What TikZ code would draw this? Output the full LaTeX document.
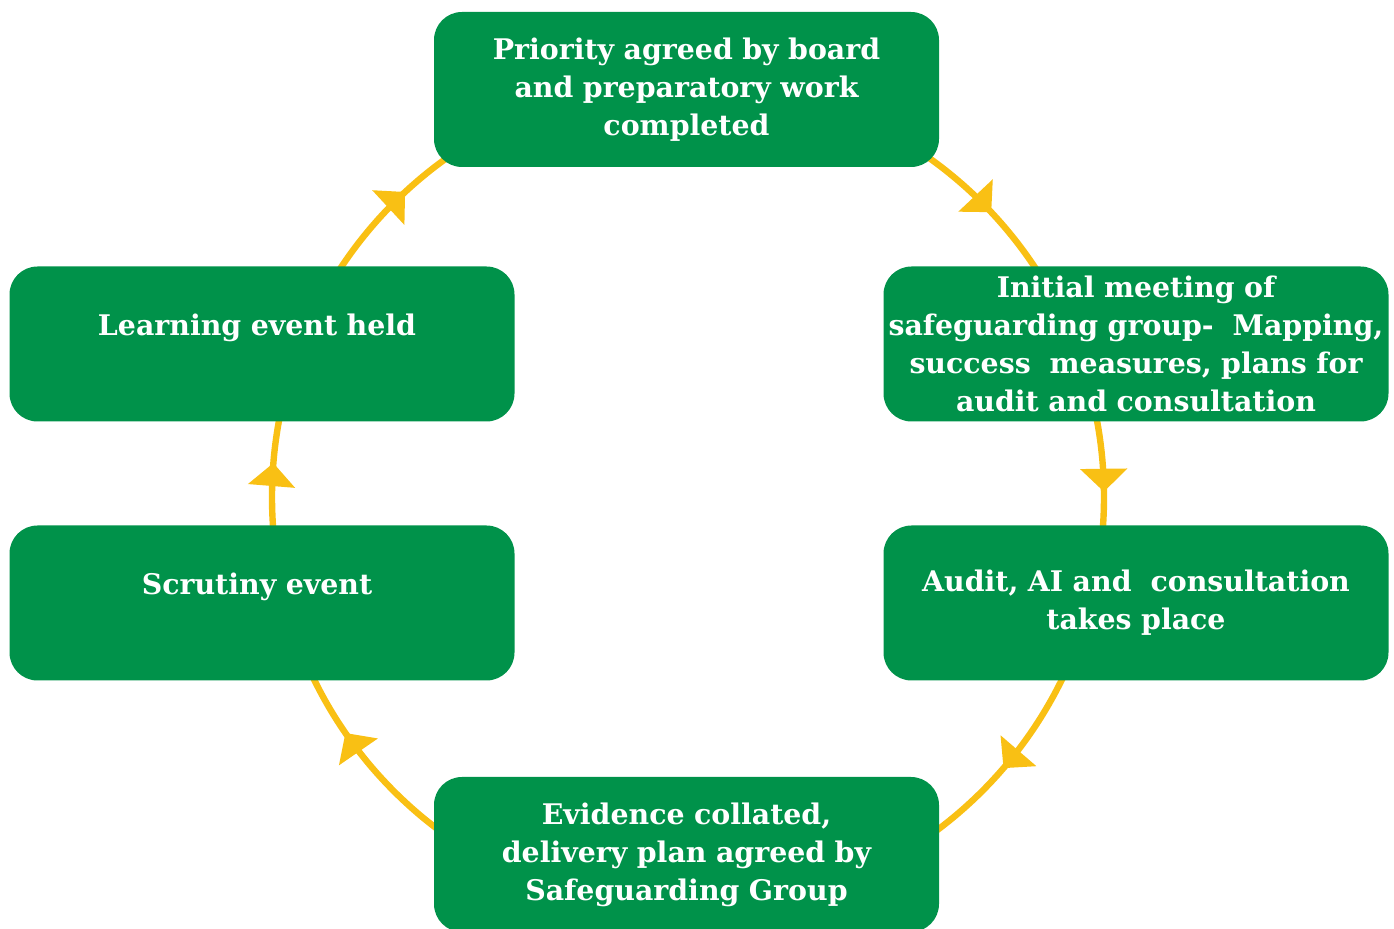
\documentclass[tikz,border=0pt]{standalone}
\usepackage{fontspec}
\setmainfont{DejaVu Serif}
\usetikzlibrary{arrows.meta,decorations.markings}
\definecolor{boxgreen}{RGB}{0,146,74}
\definecolor{ringyellow}{RGB}{249,192,20}
\begin{document}
\begin{tikzpicture}[x=0.5pt,y=0.5pt,
  stagebox/.style={fill=boxgreen, rounded corners=14pt, minimum width=252.5pt,
    minimum height=77.5pt, text=white, inner sep=0pt, text width=251pt, align=center,
    font=\bfseries\fontsize{14.2}{19}\selectfont},
  ring/.style={draw=ringyellow, line width=3.2pt},
  ringarrows/.style={postaction={decorate}, decoration={markings,
    mark=at position 0.130 with {\arrow[ringyellow]{Triangle[width=23pt,length=11.5pt]}},
    mark=at position 0.248 with {\arrow[ringyellow]{Triangle[width=23pt,length=11.5pt]}},
    mark=at position 0.363 with {\arrow[ringyellow]{Triangle[width=23pt,length=11.5pt]}},
    mark=at position 0.654 with {\arrow[ringyellow]{Triangle[width=23pt,length=11.5pt]}},
    mark=at position 0.763 with {\arrow[ringyellow]{Triangle[width=23pt,length=11.5pt]}},
    mark=at position 0.881 with {\arrow[ringyellow]{Triangle[width=23pt,length=11.5pt]}}}}
]
\useasboundingbox (0,0) rectangle (1394,-929);
\coordinate (c) at (688,-497);
\draw[ring, ringarrows] ([yshift=208pt]c) arc[start angle=90, end angle=-270, radius=208pt];

\node[stagebox] (top) at (686.5,-89.5) {Priority agreed by board\\and preparatory work\\completed};
\node[stagebox] (ru) at (1136,-344) {Initial meeting of\\safeguarding group-\ \ Mapping,\\success\ \ measures, plans for\\audit and consultation};
\node[stagebox] (rl) at (1136,-603) {Audit, AI and\ \ consultation\\takes place};
\node[stagebox] (bot) at (686.5,-854.5) {Evidence collated,\\delivery plan agreed by\\Safeguarding Group};
\node[stagebox] (ll) at (262,-603) {\hspace*{-5pt}Scrutiny event\\\mbox{}};
\node[stagebox] (lu) at (262,-344) {\hspace*{-5pt}Learning event held\\\mbox{}};
\end{tikzpicture}
\end{document}
